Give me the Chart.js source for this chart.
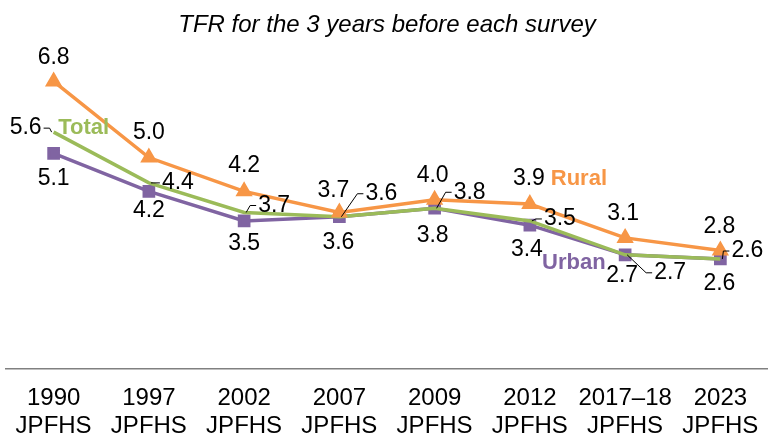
<!DOCTYPE html>
<html>
<head>
<meta charset="utf-8">
<script src="https://cdn.jsdelivr.net/npm/chart.js@4"></script>
<style>
  html, body { margin: 0; padding: 0; background: #fff; }
  #wrap { width: 768px; height: 434px; position: relative; }
</style>
</head>
<body>
<div id="wrap"><canvas id="tfrChart"></canvas></div>
<script>
const surveys = [['1990', 'JPFHS'], ['1997', 'JPFHS'], ['2002', 'JPFHS'], ['2007', 'JPFHS'],
  ['2009', 'JPFHS'], ['2012', 'JPFHS'], ['2017\u201318', 'JPFHS'], ['2023', 'JPFHS']];
const rural = [6.8, 5.0, 4.2, 3.7, 4.0, 3.9, 3.1, 2.8];
const total = [5.6, 4.4, 3.7, 3.6, 3.8, 3.5, 2.7, 2.6];
const urban = [5.1, 4.2, 3.5, 3.6, 3.8, 3.4, 2.7, 2.6];

// label offsets from each point (px), total labels get a leader line
const ruralOff = [[0, -24], [0, -25], [0, -26], [-6, -22], [-2, -24], [-1, -25], [-2, -24], [-1, -24]];
const totalOff = [[-28, -4], [29, 0], [30, -7], [42, -23], [35, -16], [30, -2], [45, 18], [27, -8]];
const urbanOff = [[0, 25], [0, 19], [0, 23], [-1, 26], [-2, 27], [-3, 24], [-3, 21], [-1, 25]];

const ORANGE = '#F79646', GREEN = '#9BBB59', PURPLE = '#8064A2';
const FONT = '"Liberation Sans", Arial, sans-serif';

const pointLabels = {
  id: 'pointLabels',
  afterDatasetsDraw(chart) {
    const ctx = chart.ctx;
    ctx.save();
    ctx.textAlign = 'center';
    ctx.textBaseline = 'middle';
    chart.data.datasets.forEach((ds, di) => {
      const meta = chart.getDatasetMeta(di);
      ctx.font = '23px ' + FONT;
      meta.data.forEach((pt, i) => {
        const [dx, dy] = ds.labelOff[i];
        const txt = ds.data[i].toFixed(1);
        const x = pt.x + dx, y = pt.y + dy;
        ctx.fillStyle = '#000';
        ctx.fillText(txt, x, y);
        if (ds.leader) {
          const w = ctx.measureText(txt).width;
          const ex = dx < 0 ? x + w / 2 + 2 : x - w / 2 - 2;
          ctx.strokeStyle = '#000';
          ctx.lineWidth = 1;
          ctx.beginPath();
          ctx.moveTo(pt.x + (dx < 0 ? -2 : 2), pt.y);
          ctx.lineTo(ex - (dx < 0 ? -6 : 6), y);
          ctx.lineTo(ex, y);
          ctx.stroke();
        }
      });
      // series name
      const [idx, nx, ny] = ds.nameAt;
      const p = meta.data[idx];
      ctx.font = 'bold 22px ' + FONT;
      ctx.fillStyle = ds.borderColor;
      ctx.fillText(ds.label, p.x + nx, p.y + ny);
    });
    ctx.restore();
  }
};

new Chart(document.getElementById('tfrChart'), {
  type: 'line',
  data: {
    labels: surveys,
    datasets: [
      {
        label: 'Rural', data: rural, borderColor: ORANGE, backgroundColor: ORANGE,
        borderWidth: 3.5, pointStyle: 'triangle', pointRadius: 6.5, pointHoverRadius: 6.5,
        labelOff: ruralOff, nameAt: [5, 49, -25]
      },
      {
        label: 'Total', data: total, borderColor: GREEN, backgroundColor: GREEN,
        borderWidth: 3.5, pointRadius: 0, leader: true,
        labelOff: totalOff, nameAt: [0, 30, -4]
      },
      {
        label: 'Urban', data: urban, borderColor: PURPLE, backgroundColor: PURPLE,
        borderWidth: 3.5, pointStyle: 'rect', pointRadius: 6.5, pointHoverRadius: 6.5,
        labelOff: urbanOff, nameAt: [5, 44, 38]
      }
    ]
  },
  options: {
    responsive: true,
    maintainAspectRatio: false,
    animation: false,
    layout: { autoPadding: false, padding: { left: 6, right: 0, top: 0, bottom: -21 } },
    plugins: {
      legend: { display: false },
      tooltip: { enabled: false },
      title: {
        display: true,
        text: 'TFR for the 3 years before each survey',
        color: '#000',
        font: { family: FONT, size: 24, style: 'italic', weight: 'normal', lineHeight: 1.2 },
        padding: { top: 11, bottom: 12 }
      }
    },
    scales: {
      x: {
        offset: true,
        grid: { display: false, drawTicks: false },
        border: { display: true, color: '#808080', width: 1.5 },
        ticks: {
          color: '#000', maxRotation: 0, autoSkip: false, padding: 15,
          font: { family: FONT, size: 24, lineHeight: 1.167 }
        },
        afterFit(scale) { scale.paddingLeft = 0; scale.paddingRight = 0; }
      },
      y: { display: false, min: 0, max: 7.5 }
    }
  },
  plugins: [pointLabels]
});
</script>
</body>
</html>
